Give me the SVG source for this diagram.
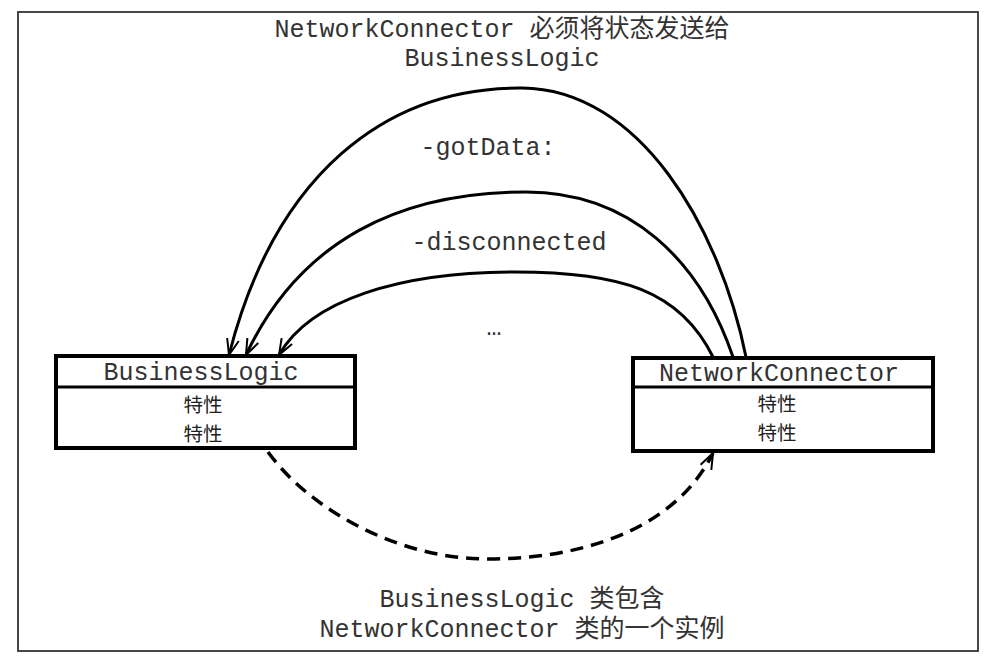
<svg xmlns="http://www.w3.org/2000/svg" width="996" height="668" viewBox="0 0 996 668">
<style>
.mono{font-family:"Liberation Mono","Noto Sans CJK SC",monospace;font-size:25px;fill:#333;}
.attr{font-family:"Noto Sans CJK SC",sans-serif;font-size:19.5px;fill:#222;}
.box{fill:#fff;stroke:#000;stroke-width:4;}
.div{stroke:#000;stroke-width:3;}
.conn{fill:none;stroke:#000;stroke-width:3;}
.dash{fill:none;stroke:#000;stroke-width:3.5;stroke-dasharray:13 8;}
</style>
<defs>
<marker id="arr" markerUnits="userSpaceOnUse" markerWidth="20" markerHeight="18" refX="17" refY="9" orient="auto">
<path d="M1,3 L17,9 L1,15" fill="none" stroke="#000" stroke-width="2"/>
</marker>
</defs>
<rect x="18" y="12" width="960" height="639" fill="#fff" stroke="#333" stroke-width="1.8"/>
<g id="title">
<text class="mono" x="502" y="37" text-anchor="middle">NetworkConnector 必须将状态发送给</text>
<text class="mono" x="502" y="66" text-anchor="middle">BusinessLogic</text>
</g>
<g id="connectors">
<path class="conn" d="M746,357 C720,228 640,89 522,88 C385,87 275,175 229,355" marker-end="url(#arr)"/>
<path class="conn" d="M733,357 C700,260 630,192 526,192 C400,192 300,240 246,355" marker-end="url(#arr)"/>
<path class="conn" d="M713,357 C680,290 620,272 515,272 C400,272 310,300 279,355" marker-end="url(#arr)"/>
<path class="dash" d="M268,452 C310,510 400,560 490,559 C600,558 680,520 713,453" marker-end="url(#arr)"/>
<text class="mono" x="488" y="155" text-anchor="middle">-gotData:</text>
<text class="mono" x="509" y="250" text-anchor="middle">-disconnected</text>
<text class="mono" x="494" y="335" text-anchor="middle">…</text>
</g>
<g id="BusinessLogic">
<rect class="box" x="56" y="356" width="299" height="92"/>
<line class="div" x1="56" y1="387" x2="355" y2="387"/>
<text class="mono" x="201" y="380" text-anchor="middle">BusinessLogic</text>
<text class="attr" x="203" y="412" text-anchor="middle">特性</text>
<text class="attr" x="203" y="441" text-anchor="middle">特性</text>
</g>
<g id="NetworkConnector">
<rect class="box" x="633" y="358" width="300" height="93"/>
<line class="div" x1="633" y1="387" x2="933" y2="387"/>
<text class="mono" x="779" y="381" text-anchor="middle">NetworkConnector</text>
<text class="attr" x="777" y="411" text-anchor="middle">特性</text>
<text class="attr" x="777" y="440" text-anchor="middle">特性</text>
</g>
<g id="caption">
<text class="mono" x="522" y="607" text-anchor="middle">BusinessLogic 类包含</text>
<text class="mono" x="522" y="637" text-anchor="middle">NetworkConnector 类的一个实例</text>
</g>
</svg>
